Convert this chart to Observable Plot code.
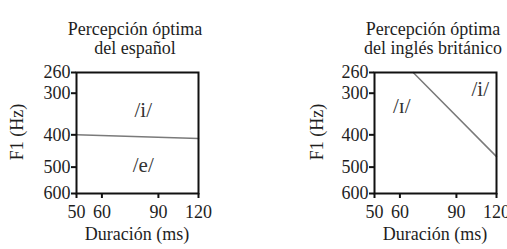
<!DOCTYPE html>
<html>
<head>
<meta charset="utf-8">
<script src="https://cdn.jsdelivr.net/npm/d3@7"></script>
<script src="https://cdn.jsdelivr.net/npm/@observablehq/plot@0.6"></script>
<style>
  html, body { margin: 0; padding: 0; background: #fff; }
  #wrap { position: relative; width: 507px; height: 249px; overflow: hidden; background: #fff;
          font-family: "Liberation Serif", Tinos, "Times New Roman", Times, "Nimbus Roman", "DejaVu Serif", serif; }
  .panel { position: absolute; top: 0; }
  #overlay { position: absolute; left: 0; top: 0; pointer-events: none; }
  #overlay text { font-family: "Liberation Serif", Tinos, "Times New Roman", Times, "Nimbus Roman", "DejaVu Serif", serif; font-size: 18px; fill: #1e1e1e; }
  .panel svg, .panel svg text { font-family: "Liberation Serif", Tinos, "Times New Roman", Times, "Nimbus Roman", "DejaVu Serif", serif !important; }
</style>
</head>
<body>
<div id="wrap">
  <div id="p1" class="panel" style="left:0px"></div>
  <div id="p2" class="panel" style="left:250px"></div>
  <svg id="overlay" width="507" height="249"></svg>
</div>
<script>
// ---- data ----
const xTicks = [50, 60, 90, 120];          // Duración (ms)
const yTicks = [260, 300, 400, 500, 600];  // F1 (Hz)
const xDomain = [50, 120];
const yDomain = [260, 600];

// Spanish: category boundary /i/ vs /e/
const spanishDur = [50, 120];
const spanishF1 = [400, 410];
// British English: boundary /ɪ/ vs /i/
const britishDur = [66, 120];
const britishF1 = [260, 465];

// vowel region labels
const spanishLabels = ["/i/", "/e/"];
const spanishLabelDur = [79, 79];
const spanishLabelF1 = [338, 495];
const britishLabels = ["/ɪ/", "/i/"];
const britishLabelDur = [59.5, 104.5];
const britishLabelF1 = [328, 292];

const titles1 = ["Percepción óptima", "del español"];
const titles2 = ["Percepción óptima", "del inglés británico"];
const xLabel = "Duración (ms)";
const yLabel = "F1 (Hz)";

const serif = '"Liberation Serif", Tinos, "Times New Roman", Times, "Nimbus Roman", "DejaVu Serif", serif';

function panel(width, mLeft, mRight, durs, f1s, labels, lDur, lF1) {
  const line = durs.map((d, i) => ({dur: d, f1: f1s[i]}));
  const labs = labels.map((t, i) => ({t, dur: lDur[i], f1: lF1[i]}));
  return Plot.plot({
    width, height: 249,
    marginLeft: mLeft, marginRight: mRight, marginTop: 72, marginBottom: 56,
    style: {fontFamily: serif, fontSize: "18px", color: "#1e1e1e", background: "transparent", overflow: "visible"},
    x: {type: "log", domain: xDomain},
    y: {type: "log", domain: yDomain, reverse: true},
    marks: [
      Plot.line(line, {x: "dur", y: "f1", stroke: "#7a7a7a", strokeWidth: 1.5}),
      Plot.text(labs, {x: "dur", y: "f1", text: "t", fontSize: 21, fill: "#333", dx: 3, style: "letter-spacing:6px"}),
      Plot.frame({stroke: "#111", strokeWidth: 2}),
      Plot.axisX({ticks: xTicks, tickFormat: d => String(d), tickSize: 5, tickPadding: 7, strokeWidth: 2, stroke: "#111", label: null}),
      Plot.axisY({ticks: yTicks, tickFormat: d => String(d), tickSize: 5, tickPadding: 1, strokeWidth: 2, stroke: "#111", label: null})
    ]
  });
}

document.getElementById("p1").appendChild(
  panel(250, 76, 52, spanishDur, spanishF1, spanishLabels, spanishLabelDur, spanishLabelF1));
document.getElementById("p2").appendChild(
  panel(257, 124, 11, britishDur, britishF1, britishLabels, britishLabelDur, britishLabelF1));

// titles and axis labels
const ov = d3.select("#overlay");
function addText(x, y, t, rot) {
  const el = ov.append("text").attr("text-anchor", "middle").text(t);
  if (rot) el.attr("transform", `translate(${x},${y}) rotate(-90)`);
  else el.attr("x", x).attr("y", y);
}
addText(135, 35, titles1[0]); addText(135, 54, titles1[1]);
addText(433, 35, titles2[0]); addText(433, 54, titles2[1]);
addText(137, 240, xLabel); addText(435, 240, xLabel);
addText(23, 132, yLabel, true); addText(323, 132, yLabel, true);
</script>
</body>
</html>
